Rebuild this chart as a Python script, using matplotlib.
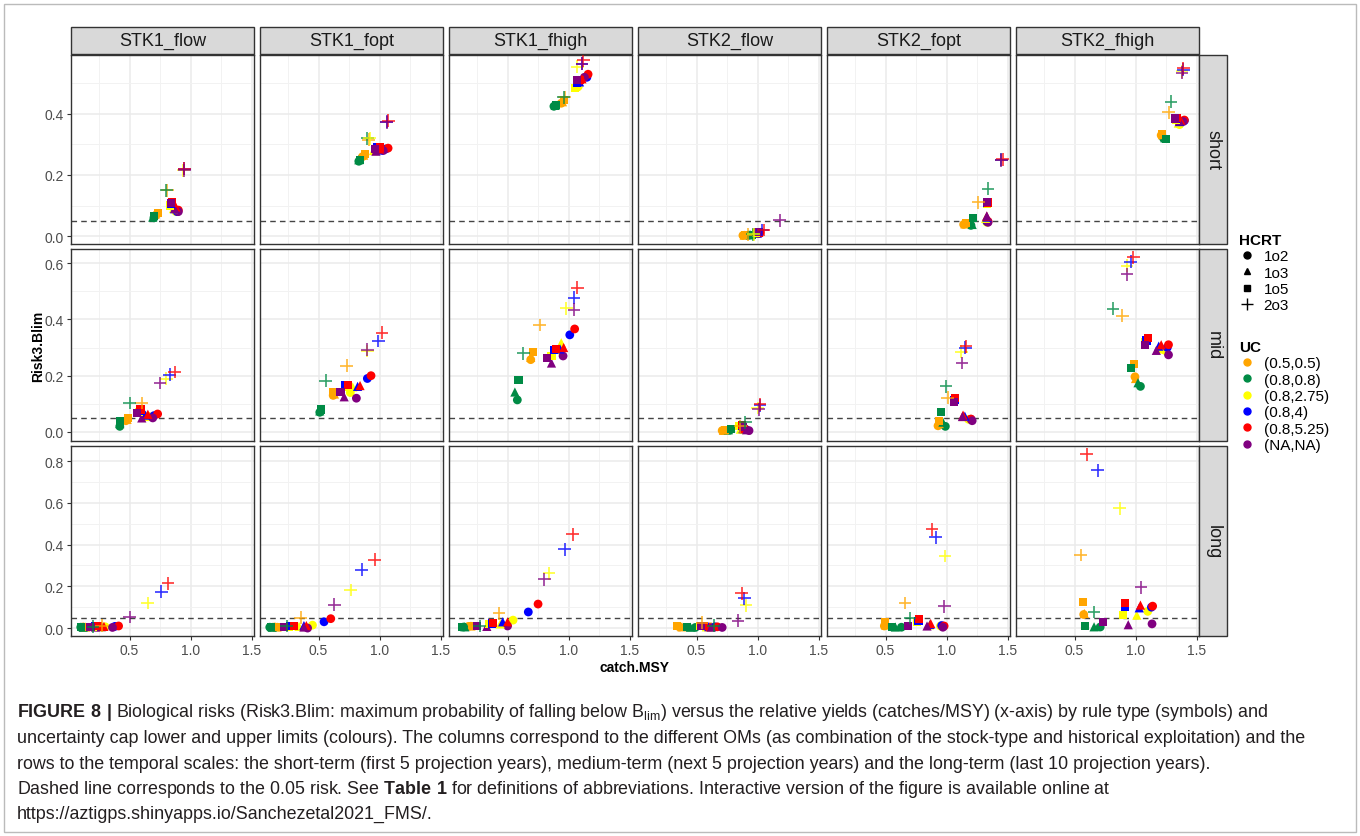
import matplotlib
matplotlib.use('Agg')
import matplotlib.pyplot as plt
from matplotlib.patches import Rectangle
from matplotlib.lines import Line2D
from matplotlib import font_manager

installed = {f.name for f in font_manager.fontManager.ttflist}
cap_font = 'Liberation Sans Narrow' if 'Liberation Sans Narrow' in installed else 'Liberation Sans'

plt.rcParams['font.family'] = ['Liberation Sans', 'DejaVu Sans']
plt.rcParams['mathtext.fontset'] = 'custom'
plt.rcParams['mathtext.rm'] = cap_font
plt.rcParams['mathtext.bf'] = cap_font + ':bold'

stocks = ['STK1_flow', 'STK1_fopt', 'STK1_fhigh', 'STK2_flow', 'STK2_fopt', 'STK2_fhigh']
terms = ['short', 'mid', 'long']
hcrt = ['1o2', '1o3', '1o5', '2o3']
uc = ['(0.5,0.5)', '(0.8,0.8)', '(0.8,2.75)', '(0.8,4)', '(0.8,5.25)', '(NA,NA)']
uc_colors = ['#FFA500', '#008B45', '#FFFF00', '#0000FF', '#FF0000', '#800080']

# each list: 4 rows (1o2, 1o3, 1o5, 2o3) x 6 UC values
# ---- short term ----
short_stk1_flow_x = [0.72, 0.70, 0.88, 0.89, 0.90, 0.90,
                     0.71, 0.69, 0.86, 0.87, 0.88, 0.87,
                     0.73, 0.70, 0.83, 0.84, 0.85, 0.84,
                     0.81, 0.80, 0.94, 0.95, 0.95, 0.95]
short_stk1_flow_y = [0.070, 0.060, 0.080, 0.080, 0.085, 0.080,
                     0.072, 0.062, 0.090, 0.090, 0.095, 0.090,
                     0.075, 0.065, 0.100, 0.105, 0.110, 0.108,
                     0.150, 0.150, 0.215, 0.220, 0.220, 0.215]
short_stk1_fopt_x = [0.86, 0.83, 0.97, 1.05, 1.07, 1.03,
                     0.87, 0.83, 0.95, 0.99, 1.00, 0.97,
                     0.88, 0.84, 0.96, 0.98, 1.00, 0.96,
                     0.91, 0.90, 0.92, 1.06, 1.07, 1.06]
short_stk1_fopt_y = [0.260, 0.245, 0.280, 0.285, 0.288, 0.280,
                     0.265, 0.250, 0.280, 0.282, 0.285, 0.278,
                     0.270, 0.250, 0.285, 0.290, 0.290, 0.285,
                     0.315, 0.320, 0.320, 0.375, 0.378, 0.372]
short_stk1_fhigh_x = [0.94, 0.88, 1.08, 1.15, 1.16, 1.13,
                      0.95, 0.89, 1.06, 1.09, 1.11, 1.08,
                      0.96, 0.90, 1.05, 1.07, 1.09, 1.07,
                      0.97, 0.96, 1.07, 1.11, 1.12, 1.11]
short_stk1_fhigh_y = [0.435, 0.425, 0.490, 0.520, 0.530, 0.520,
                      0.440, 0.428, 0.490, 0.505, 0.515, 0.510,
                      0.445, 0.430, 0.485, 0.500, 0.510, 0.510,
                      0.455, 0.455, 0.555, 0.565, 0.575, 0.565]
short_stk2_flow_x = [0.88, 0.93, 0.99, 1.01, 1.02, 1.00,
                     0.89, 0.94, 0.98, 1.00, 1.01, 0.99,
                     0.90, 0.95, 0.99, 1.00, 1.01, 1.00,
                     0.92, 0.96, 0.97, 1.04, 1.05, 1.18]
short_stk2_flow_y = [0.002, 0.003, 0.008, 0.010, 0.012, 0.008,
                     0.003, 0.004, 0.009, 0.010, 0.012, 0.010,
                     0.003, 0.004, 0.010, 0.012, 0.014, 0.012,
                     0.005, 0.006, 0.006, 0.020, 0.020, 0.052]
short_stk2_fopt_x = [1.14, 1.20, 1.33, 1.33, 1.34, 1.34,
                     1.15, 1.21, 1.32, 1.33, 1.33, 1.33,
                     1.16, 1.22, 1.33, 1.33, 1.34, 1.33,
                     1.26, 1.34, 1.45, 1.45, 1.46, 1.45]
short_stk2_fopt_y = [0.038, 0.035, 0.045, 0.048, 0.048, 0.045,
                     0.040, 0.038, 0.058, 0.062, 0.065, 0.066,
                     0.042, 0.058, 0.105, 0.108, 0.110, 0.112,
                     0.110, 0.155, 0.250, 0.250, 0.252, 0.248]
short_stk2_fhigh_x = [1.21, 1.23, 1.36, 1.40, 1.40, 1.39,
                      1.22, 1.24, 1.35, 1.36, 1.37, 1.36,
                      1.22, 1.25, 1.33, 1.33, 1.34, 1.32,
                      1.27, 1.29, 1.38, 1.39, 1.39, 1.38]
short_stk2_fhigh_y = [0.330, 0.320, 0.365, 0.378, 0.380, 0.375,
                      0.332, 0.322, 0.370, 0.375, 0.380, 0.377,
                      0.335, 0.318, 0.380, 0.385, 0.388, 0.385,
                      0.405, 0.440, 0.540, 0.545, 0.550, 0.535]
# ---- mid term ----
mid_stk1_flow_x = [0.47, 0.42, 0.66, 0.70, 0.73, 0.69,
                   0.48, 0.42, 0.62, 0.63, 0.65, 0.60,
                   0.49, 0.42, 0.58, 0.59, 0.59, 0.56,
                   0.60, 0.50, 0.80, 0.83, 0.87, 0.75]
mid_stk1_flow_y = [0.040, 0.020, 0.055, 0.058, 0.064, 0.050,
                   0.045, 0.030, 0.055, 0.060, 0.063, 0.050,
                   0.050, 0.040, 0.070, 0.075, 0.080, 0.068,
                   0.103, 0.103, 0.190, 0.203, 0.213, 0.174]
mid_stk1_fopt_x = [0.62, 0.51, 0.76, 0.90, 0.93, 0.81,
                   0.63, 0.51, 0.78, 0.82, 0.84, 0.71,
                   0.62, 0.52, 0.72, 0.72, 0.74, 0.68,
                   0.73, 0.56, 0.90, 0.99, 1.02, 0.90]
mid_stk1_fopt_y = [0.130, 0.070, 0.140, 0.190, 0.200, 0.120,
                   0.135, 0.075, 0.160, 0.162, 0.165, 0.125,
                   0.142, 0.080, 0.160, 0.167, 0.167, 0.142,
                   0.235, 0.182, 0.288, 0.323, 0.352, 0.292]
mid_stk1_fhigh_x = [0.69, 0.58, 0.93, 1.01, 1.05, 0.955,
                    0.69, 0.56, 0.94, 0.93, 0.96, 0.86,
                    0.71, 0.59, 0.86, 0.88, 0.90, 0.82,
                    0.765, 0.63, 0.98, 1.045, 1.07, 1.045]
mid_stk1_fhigh_y = [0.257, 0.114, 0.290, 0.345, 0.366, 0.270,
                    0.265, 0.142, 0.317, 0.295, 0.300, 0.245,
                    0.284, 0.185, 0.270, 0.292, 0.295, 0.264,
                    0.380, 0.280, 0.440, 0.477, 0.512, 0.435]
mid_stk2_flow_x = [0.71, 0.77, 0.88, 0.90, 0.90, 0.93,
                   0.72, 0.76, 0.86, 0.88, 0.89, 0.91,
                   0.73, 0.78, 0.85, 0.87, 0.87, 0.88,
                   0.86, 0.90, 1.00, 1.02, 1.02, 1.01]
mid_stk2_flow_y = [0.005, 0.006, 0.008, 0.010, 0.010, 0.005,
                   0.006, 0.008, 0.010, 0.012, 0.012, 0.008,
                   0.008, 0.010, 0.020, 0.022, 0.025, 0.018,
                   0.020, 0.035, 0.085, 0.095, 0.098, 0.080]
mid_stk2_fopt_x = [0.93, 0.99, 1.18, 1.20, 1.20, 1.21,
                   0.94, 0.97, 1.14, 1.15, 1.135, 1.13,
                   0.94, 0.955, 1.06, 1.065, 1.07, 1.06,
                   1.01, 0.995, 1.12, 1.155, 1.16, 1.127]
mid_stk2_fopt_y = [0.022, 0.020, 0.045, 0.045, 0.046, 0.040,
                   0.030, 0.035, 0.055, 0.056, 0.060, 0.055,
                   0.040, 0.070, 0.110, 0.115, 0.122, 0.108,
                   0.122, 0.163, 0.285, 0.300, 0.305, 0.245]
mid_stk2_fhigh_x = [0.995, 1.04, 1.24, 1.26, 1.27, 1.27,
                    1.00, 1.02, 1.20, 1.19, 1.21, 1.17,
                    0.99, 0.96, 1.08, 1.09, 1.10, 1.08,
                    0.89, 0.815, 0.93, 0.96, 0.98, 0.93]
mid_stk2_fhigh_y = [0.196, 0.162, 0.290, 0.300, 0.310, 0.274,
                    0.190, 0.175, 0.295, 0.305, 0.310, 0.290,
                    0.242, 0.228, 0.320, 0.325, 0.335, 0.310,
                    0.413, 0.438, 0.590, 0.605, 0.620, 0.560]
# ---- long term ----
long_stk1_flow_x = [0.12, 0.10, 0.30, 0.38, 0.41, 0.36,
                    0.14, 0.12, 0.26, 0.27, 0.29, 0.22,
                    0.15, 0.10, 0.20, 0.22, 0.24, 0.18,
                    0.27, 0.20, 0.65, 0.76, 0.815, 0.50]
long_stk1_flow_y = [0.005, 0.004, 0.006, 0.008, 0.010, 0.003,
                    0.005, 0.004, 0.006, 0.007, 0.008, 0.005,
                    0.006, 0.005, 0.007, 0.008, 0.009, 0.006,
                    0.012, 0.006, 0.120, 0.174, 0.215, 0.053]
long_stk1_fopt_x = [0.14, 0.10, 0.45, 0.545, 0.60, 0.41,
                    0.16, 0.12, 0.34, 0.38, 0.40, 0.38,
                    0.17, 0.11, 0.26, 0.27, 0.30, 0.22,
                    0.355, 0.24, 0.765, 0.855, 0.96, 0.63]
long_stk1_fopt_y = [0.005, 0.004, 0.014, 0.030, 0.045, 0.000,
                    0.005, 0.004, 0.008, 0.012, 0.012, 0.005,
                    0.006, 0.004, 0.007, 0.008, 0.009, 0.006,
                    0.050, 0.010, 0.182, 0.280, 0.328, 0.112]
long_stk1_fhigh_x = [0.18, 0.14, 0.545, 0.67, 0.75, 0.50,
                     0.20, 0.15, 0.44, 0.46, 0.50, 0.33,
                     0.22, 0.13, 0.35, 0.37, 0.38, 0.25,
                     0.43, 0.27, 0.84, 0.97, 1.035, 0.80]
long_stk1_fhigh_y = [0.008, 0.005, 0.038, 0.077, 0.115, 0.010,
                     0.010, 0.006, 0.020, 0.030, 0.030, 0.008,
                     0.012, 0.007, 0.020, 0.022, 0.025, 0.012,
                     0.070, 0.010, 0.263, 0.378, 0.450, 0.234]
long_stk2_flow_x = [0.36, 0.49, 0.62, 0.65, 0.67, 0.71,
                    0.38, 0.45, 0.58, 0.60, 0.61, 0.62,
                    0.34, 0.42, 0.53, 0.55, 0.56, 0.54,
                    0.545, 0.64, 0.905, 0.89, 0.87, 0.84]
long_stk2_flow_y = [0.005, 0.003, 0.005, 0.006, 0.006, 0.003,
                    0.006, 0.004, 0.006, 0.007, 0.007, 0.005,
                    0.008, 0.006, 0.008, 0.008, 0.009, 0.008,
                    0.025, 0.012, 0.110, 0.143, 0.167, 0.035]
long_stk2_fopt_x = [0.49, 0.63, 0.95, 0.96, 0.98, 0.97,
                    0.50, 0.58, 0.86, 0.865, 0.87, 0.84,
                    0.495, 0.55, 0.76, 0.77, 0.775, 0.685,
                    0.66, 0.70, 0.987, 0.91, 0.88, 0.98]
long_stk2_fopt_y = [0.010, 0.004, 0.010, 0.012, 0.010, 0.004,
                    0.015, 0.005, 0.015, 0.018, 0.022, 0.010,
                    0.028, 0.006, 0.030, 0.036, 0.043, 0.012,
                    0.120, 0.048, 0.345, 0.435, 0.474, 0.105]
long_stk2_fhigh_x = [0.575, 0.71, 1.10, 1.13, 1.14, 1.135,
                     0.58, 0.66, 1.01, 1.03, 1.04, 0.94,
                     0.57, 0.585, 0.90, 0.91, 0.915, 0.735,
                     0.55, 0.66, 0.87, 0.69, 0.60, 1.045]
long_stk2_fhigh_y = [0.065, 0.005, 0.080, 0.100, 0.105, 0.020,
                     0.070, 0.006, 0.062, 0.097, 0.110, 0.016,
                     0.124, 0.010, 0.063, 0.100, 0.118, 0.030,
                     0.350, 0.077, 0.574, 0.756, 0.833, 0.196]

panel_data = {
    ('short', 'STK1_flow'): (short_stk1_flow_x, short_stk1_flow_y),
    ('short', 'STK1_fopt'): (short_stk1_fopt_x, short_stk1_fopt_y),
    ('short', 'STK1_fhigh'): (short_stk1_fhigh_x, short_stk1_fhigh_y),
    ('short', 'STK2_flow'): (short_stk2_flow_x, short_stk2_flow_y),
    ('short', 'STK2_fopt'): (short_stk2_fopt_x, short_stk2_fopt_y),
    ('short', 'STK2_fhigh'): (short_stk2_fhigh_x, short_stk2_fhigh_y),
    ('mid', 'STK1_flow'): (mid_stk1_flow_x, mid_stk1_flow_y),
    ('mid', 'STK1_fopt'): (mid_stk1_fopt_x, mid_stk1_fopt_y),
    ('mid', 'STK1_fhigh'): (mid_stk1_fhigh_x, mid_stk1_fhigh_y),
    ('mid', 'STK2_flow'): (mid_stk2_flow_x, mid_stk2_flow_y),
    ('mid', 'STK2_fopt'): (mid_stk2_fopt_x, mid_stk2_fopt_y),
    ('mid', 'STK2_fhigh'): (mid_stk2_fhigh_x, mid_stk2_fhigh_y),
    ('long', 'STK1_flow'): (long_stk1_flow_x, long_stk1_flow_y),
    ('long', 'STK1_fopt'): (long_stk1_fopt_x, long_stk1_fopt_y),
    ('long', 'STK1_fhigh'): (long_stk1_fhigh_x, long_stk1_fhigh_y),
    ('long', 'STK2_flow'): (long_stk2_flow_x, long_stk2_flow_y),
    ('long', 'STK2_fopt'): (long_stk2_fopt_x, long_stk2_fopt_y),
    ('long', 'STK2_fhigh'): (long_stk2_fhigh_x, long_stk2_fhigh_y),
}

row_yticks = {'short': [0.0, 0.2, 0.4], 'mid': [0.0, 0.2, 0.4, 0.6],
              'long': [0.0, 0.2, 0.4, 0.6, 0.8]}
row_ylim = {'short': (-0.026, 0.593), 'mid': (-0.032, 0.65), 'long': (-0.038, 0.872)}
risk_limit = 0.05

caption_lines = [
    r"$\bf{FIGURE\ 8\ |}$ Biological risks (Risk3.Blim: maximum probability of falling below B$_{\rm lim}$) versus the relative yields (catches/MSY) (x-axis) by rule type (symbols) and",
    "uncertainty cap lower and upper limits (colours). The columns correspond to the different OMs (as combination of the stock-type and historical exploitation) and the",
    "rows to the temporal scales: the short-term (first 5 projection years), medium-term (next 5 projection years) and the long-term (last 10 projection years).",
    r"Dashed line corresponds to the 0.05 risk. See $\bf{Table\ 1}$ for definitions of abbreviations. Interactive version of the figure is available online at",
    "https://aztigps.shinyapps.io/Sanchezetal2021_FMS/.",
]

# layout (pixels)
W, H = 1360, 837
col_left = [71, 260, 449, 638, 827, 1016]
panel_w = 183
row_top = [56, 250, 447]
row_bot = [245, 442, 637]
markers = {'1o2': ('o', 40), '1o3': ('^', 44), '1o5': ('s', 34), '2o3': ('+', 85)}

fig = plt.figure(figsize=(13.6, 8.37), dpi=100)

for r, term in enumerate(terms):
    for c, stk in enumerate(stocks):
        ax = fig.add_axes([col_left[c] / W, 1 - row_bot[r] / H,
                           panel_w / W, (row_bot[r] - row_top[r]) / H])
        xs, ys = panel_data[(term, stk)]
        ax.axhline(risk_limit, color='#444444', ls=(0, (4, 3)), lw=1.0, zorder=1)
        for h, rule in enumerate(hcrt):
            m, s = markers[rule]
            px = xs[h * 6:(h + 1) * 6]
            py = ys[h * 6:(h + 1) * 6]
            if m == '+':
                ax.scatter(px, py, marker=m, s=s, c=uc_colors, linewidths=1.2,
                           alpha=0.8, zorder=3)
            else:
                ax.scatter(px, py, marker=m, s=s, c=uc_colors, linewidths=0, zorder=3)
        ax.set_xlim(0.02, 1.52)
        ax.set_ylim(*row_ylim[term])
        ax.set_xticks([0.5, 1.0, 1.5])
        ax.set_xticks([0.25, 0.75, 1.25], minor=True)
        yt = row_yticks[term]
        ax.set_yticks(yt)
        ax.set_yticks([v + 0.1 for v in yt if v + 0.1 < row_ylim[term][1]], minor=True)
        ax.grid(which='major', color='#EBEBEB', lw=1.1)
        ax.grid(which='minor', color='#F2F2F2', lw=0.7)
        ax.set_axisbelow(True)
        for sp in ax.spines.values():
            sp.set_color('#333333')
            sp.set_linewidth(1.0)
        ax.tick_params(which='minor', length=0)
        ax.tick_params(which='major', length=3, color='#333333', labelsize=10,
                       labelcolor='#4D4D4D', pad=2)
        if c == 0:
            ax.set_yticklabels(['%.1f' % v for v in yt])
        else:
            ax.tick_params(axis='y', length=0, labelleft=False)
        if r == 2:
            ax.set_xticklabels(['0.5', '1.0', '1.5'])
        else:
            ax.tick_params(axis='x', length=0, labelbottom=False)

# column strips
for c, stk in enumerate(stocks):
    fig.add_artist(Rectangle((col_left[c] / W, 1 - 55 / H), panel_w / W, 27 / H,
                             transform=fig.transFigure, fc='#D9D9D9', ec='#333333', lw=1.0))
    fig.text((col_left[c] + panel_w / 2) / W, 1 - 41.5 / H, stk, ha='center', va='center',
             fontsize=13, color='#1A1A1A')
# row strips
for r, term in enumerate(terms):
    fig.add_artist(Rectangle((1199 / W, 1 - row_bot[r] / H), 28 / W,
                             (row_bot[r] - row_top[r]) / H, transform=fig.transFigure,
                             fc='#D9D9D9', ec='#333333', lw=1.0))
    fig.text(1213 / W, 1 - (row_top[r] + row_bot[r]) / 2 / H, term, ha='center',
             va='center', rotation=-90, fontsize=13, color='#1A1A1A')

fig.text(38 / W, 1 - 346 / H, 'Risk3.Blim', rotation=90, ha='center', va='center',
         fontsize=10, fontweight='bold')
fig.text(635 / W, 1 - 668 / H, 'catch.MSY', ha='center', va='center',
         fontsize=10, fontweight='bold')

# legends
shape_handles = [Line2D([], [], ls='', marker=markers[k][0], color='black',
                        ms=5 if k != '2o3' else 8, mew=1.0) for k in hcrt]
leg1 = fig.legend(shape_handles, hcrt, title='HCRT', loc='upper left',
                  bbox_to_anchor=(1233 / W, 1 - 228 / H), frameon=False, fontsize=11,
                  title_fontproperties={'weight': 'bold', 'size': 11}, alignment='left',
                  handlelength=1.0, handletextpad=0.6, labelspacing=0.15, borderaxespad=0)
color_handles = [Line2D([], [], ls='', marker='o', color=col, ms=5) for col in uc_colors]
leg2 = fig.legend(color_handles, uc, title='UC', loc='upper left',
                  bbox_to_anchor=(1233 / W, 1 - 335 / H), frameon=False, fontsize=11,
                  title_fontproperties={'weight': 'bold', 'size': 11}, alignment='left',
                  handlelength=1.0, handletextpad=0.6, labelspacing=0.15, borderaxespad=0)

# caption, font size fitted to the printed line width
renderer = fig.canvas.get_renderer()
probe = fig.text(0, 0, caption_lines[1], fontsize=12, family=cap_font)
w12 = probe.get_window_extent(renderer).width
probe.remove()
cap_size = 12 * 1291 / w12
baselines = [717, 743, 769, 794, 819]
for line, yb in zip(caption_lines, baselines):
    fig.text(17 / W, 1 - yb / H, line, fontsize=cap_size, family=cap_font,
             va='baseline', ha='left', color='#231F20')

# outer frame
fig.add_artist(Rectangle((4 / W, 4 / H), 1352 / W, 828 / H, transform=fig.transFigure,
                         fc='none', ec='#BBBBBB', lw=1.0))

fig.savefig('out.png', dpi=100)
